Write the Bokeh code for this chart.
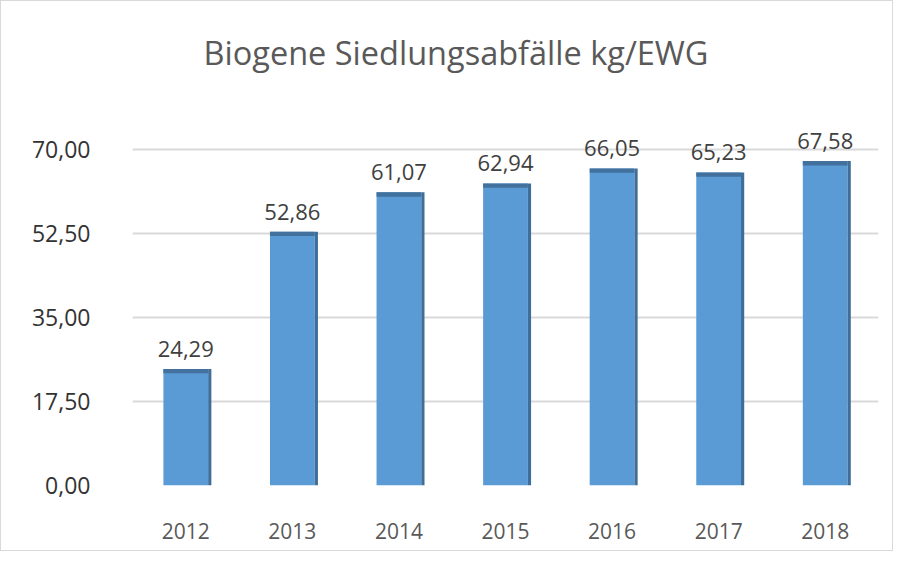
from bokeh.plotting import figure
from bokeh.models import FixedTicker, ColumnDataSource, LabelSet, Range1d
from bokeh.transform import dodge
from bokeh.core.properties import value
from bokeh.embed import file_html
from bokeh.resources import INLINE

years = ["2012", "2013", "2014", "2015", "2016", "2017", "2018"]
values = [24.29, 52.86, 61.07, 62.94, 66.05, 65.23, 67.58]
y_ticks = [0, 17.5, 35, 52.5, 70]
y_tick_labels = ["0,00", "17,50", "35,00", "52,50", "70,00"]
title_text = "Biogene Siedlungsabfälle kg/EWG"

labels = [f"{v:.2f}".replace(".", ",") for v in values]
cap = [v - 0.9 for v in values]
src = ColumnDataSource(dict(x=years, top=values, cap=cap, label=labels))

p = figure(x_range=years, y_range=Range1d(0, 80), width=893, height=551,
           output_backend="svg", toolbar_location=None,
           min_border_left=131, min_border_right=16, min_border_top=93,
           min_border_bottom=67)
p.styles = {"border": "1px solid #D9D9D9"}
p.outline_line_color = None
p.background_fill_color = "white"

p.title.text = title_text
p.title.align = "left"
p.title.offset = 71
p.title.standoff = 53
p.title.text_font = "Open Sans"
p.title.text_font_size = "32.5px"
p.title.text_font_style = "normal"
p.title.text_color = "#595959"

p.vbar(x="x", top="top", width=0.42, source=src, fill_color="#5B9BD5",
       line_color=None)
p.vbar(x=dodge("x", 0.225, range=p.x_range), top="top", width=0.03, source=src,
       fill_color="#3E6E99", line_color=None)
p.vbar(x="x", top="top", bottom="cap", width=0.42, source=src,
       fill_color="#41719C", line_color=None)

lbl = LabelSet(x="x", y="top", text="label", source=src, text_align="center",
               y_offset=12, text_font=value("Open Sans"), text_font_size="22px",
               text_color="#404040")
p.add_layout(lbl)

p.yaxis.ticker = FixedTicker(ticks=y_ticks)
p.yaxis.major_label_overrides = {t: l for t, l in zip(y_ticks, y_tick_labels)}
p.yaxis.axis_line_color = None
p.yaxis.major_tick_line_color = None
p.yaxis.minor_tick_line_color = None
p.yaxis.major_label_text_font = "Open Sans"
p.yaxis.major_label_text_font_size = "23px"
p.yaxis.major_label_text_color = "#333333"
p.yaxis.major_label_standoff = 36

p.xaxis.axis_line_color = None
p.xaxis.major_tick_line_color = None
p.xaxis.major_label_text_font = "Open Sans"
p.xaxis.major_label_text_font_size = "21px"
p.xaxis.major_label_text_color = "#595959"
p.xaxis.major_label_standoff = 31

p.xgrid.grid_line_color = None
p.ygrid.grid_line_color = "#D9D9D9"
p.ygrid.grid_line_width = 2

open("out.html", "w").write(file_html(p, INLINE))
